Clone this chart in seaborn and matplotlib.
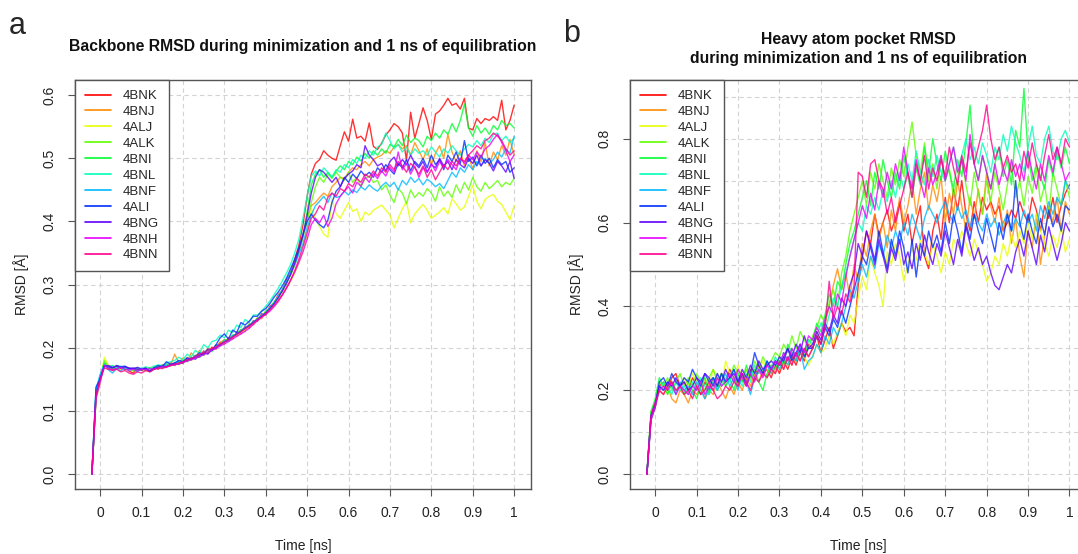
import numpy as np
import pandas as pd
import matplotlib
matplotlib.use("Agg")
import matplotlib.pyplot as plt
import seaborn as sns
from matplotlib.lines import Line2D

structures = ["4BNK", "4BNJ", "4ALJ", "4ALK", "4BNI", "4BNL", "4BNF", "4ALI", "4BNG", "4BNH", "4BNN"]
# R rainbow(11)
colors = ["#FF0000", "#FF8B00", "#E8FF00", "#5DFF00", "#00FF2E", "#00FFB9",
          "#00B9FF", "#002EFF", "#5D00FF", "#E800FF", "#FF008B"]

time_ns = [-0.02, -0.01, 0.00, 0.01, 0.02, 0.03, 0.04, 0.05, 0.06, 0.07,
           0.08, 0.09, 0.10, 0.11, 0.12, 0.13, 0.14, 0.15, 0.16, 0.17,
           0.18, 0.19, 0.20, 0.21, 0.22, 0.23, 0.24, 0.25, 0.26, 0.27,
           0.28, 0.29, 0.30, 0.31, 0.32, 0.33, 0.34, 0.35, 0.36, 0.37,
           0.38, 0.39, 0.40, 0.41, 0.42, 0.43, 0.44, 0.45, 0.46, 0.47,
           0.48, 0.49, 0.50, 0.51, 0.52, 0.53, 0.54, 0.55, 0.56, 0.57,
           0.58, 0.59, 0.60, 0.61, 0.62, 0.63, 0.64, 0.65, 0.66, 0.67,
           0.68, 0.69, 0.70, 0.71, 0.72, 0.73, 0.74, 0.75, 0.76, 0.77,
           0.78, 0.79, 0.80, 0.81, 0.82, 0.83, 0.84, 0.85, 0.86, 0.87,
           0.88, 0.89, 0.90, 0.91, 0.92, 0.93, 0.94, 0.95, 0.96, 0.97,
           0.98, 0.99, 1.00]

# ---- panel a: backbone RMSD ----
bb_4BNK = [0.000, 0.128, 0.152, 0.176, 0.170, 0.165, 0.171, 0.166, 0.169, 0.163,
           0.160, 0.167, 0.164, 0.168, 0.163, 0.170, 0.166, 0.173, 0.170, 0.176,
           0.172, 0.178, 0.175, 0.184, 0.180, 0.188, 0.185, 0.195, 0.191, 0.201,
           0.198, 0.209, 0.206, 0.216, 0.214, 0.225, 0.222, 0.234, 0.231, 0.243,
           0.242, 0.254, 0.252, 0.266, 0.270, 0.284, 0.290, 0.308, 0.318, 0.340,
           0.362, 0.395, 0.440, 0.475, 0.492, 0.498, 0.512, 0.505, 0.500, 0.497,
           0.520, 0.542, 0.527, 0.562, 0.532, 0.535, 0.527, 0.556, 0.519, 0.514,
           0.524, 0.537, 0.545, 0.555, 0.550, 0.540, 0.497, 0.573, 0.532, 0.555,
           0.580, 0.560, 0.530, 0.570, 0.575, 0.584, 0.595, 0.584, 0.587, 0.578,
           0.595, 0.548, 0.545, 0.563, 0.555, 0.563, 0.560, 0.566, 0.560, 0.592,
           0.545, 0.560, 0.584]
bb_4BNJ = [0.000, 0.122, 0.148, 0.175, 0.171, 0.167, 0.172, 0.169, 0.165, 0.168,
           0.164, 0.168, 0.165, 0.167, 0.169, 0.166, 0.171, 0.170, 0.175, 0.172,
           0.190, 0.176, 0.184, 0.178, 0.192, 0.184, 0.196, 0.188, 0.200, 0.198,
           0.202, 0.208, 0.213, 0.210, 0.220, 0.218, 0.229, 0.226, 0.238, 0.236,
           0.248, 0.246, 0.258, 0.262, 0.270, 0.283, 0.290, 0.305, 0.316, 0.336,
           0.355, 0.378, 0.405, 0.425, 0.430, 0.438, 0.445, 0.440, 0.455, 0.462,
           0.470, 0.468, 0.478, 0.485, 0.482, 0.490, 0.495, 0.488, 0.498, 0.502,
           0.505, 0.512, 0.508, 0.518, 0.522, 0.515, 0.520, 0.505, 0.525, 0.512,
           0.498, 0.515, 0.490, 0.508, 0.520, 0.500, 0.538, 0.510, 0.495, 0.512,
           0.488, 0.505, 0.482, 0.512, 0.495, 0.525, 0.488, 0.510, 0.498, 0.520,
           0.505, 0.530, 0.505]
bb_4ALJ = [0.000, 0.118, 0.145, 0.185, 0.172, 0.168, 0.170, 0.165, 0.169, 0.166,
           0.168, 0.164, 0.167, 0.163, 0.166, 0.170, 0.168, 0.172, 0.170, 0.174,
           0.176, 0.173, 0.179, 0.182, 0.180, 0.185, 0.188, 0.190, 0.193, 0.197,
           0.200, 0.204, 0.208, 0.212, 0.216, 0.220, 0.224, 0.229, 0.233, 0.238,
           0.244, 0.248, 0.255, 0.262, 0.268, 0.276, 0.285, 0.295, 0.305, 0.318,
           0.335, 0.352, 0.378, 0.420, 0.405, 0.392, 0.380, 0.375, 0.436, 0.412,
           0.405, 0.418, 0.430, 0.416, 0.420, 0.400, 0.415, 0.410, 0.418, 0.422,
           0.426, 0.418, 0.410, 0.390, 0.405, 0.420, 0.432, 0.398, 0.412, 0.420,
           0.427, 0.418, 0.405, 0.410, 0.415, 0.422, 0.412, 0.436, 0.428, 0.418,
           0.423, 0.440, 0.457, 0.432, 0.420, 0.435, 0.440, 0.443, 0.432, 0.427,
           0.415, 0.403, 0.425]
bb_4ALK = [0.000, 0.120, 0.150, 0.180, 0.170, 0.172, 0.166, 0.170, 0.167, 0.168,
           0.163, 0.167, 0.165, 0.168, 0.164, 0.167, 0.170, 0.168, 0.173, 0.171,
           0.175, 0.178, 0.176, 0.181, 0.185, 0.183, 0.190, 0.188, 0.194, 0.198,
           0.201, 0.206, 0.210, 0.214, 0.218, 0.223, 0.227, 0.231, 0.236, 0.240,
           0.245, 0.250, 0.256, 0.263, 0.270, 0.280, 0.290, 0.302, 0.315, 0.330,
           0.352, 0.375, 0.400, 0.430, 0.455, 0.470, 0.462, 0.475, 0.468, 0.478,
           0.470, 0.465, 0.478, 0.462, 0.470, 0.455, 0.468, 0.472, 0.462, 0.465,
           0.450, 0.458, 0.442, 0.430, 0.452, 0.445, 0.428, 0.450, 0.438, 0.446,
           0.440, 0.452, 0.445, 0.432, 0.455, 0.440, 0.448, 0.438, 0.458, 0.445,
           0.462, 0.450, 0.470, 0.455, 0.448, 0.462, 0.452, 0.458, 0.465, 0.455,
           0.462, 0.458, 0.468]
bb_4BNI = [0.000, 0.130, 0.155, 0.176, 0.166, 0.169, 0.167, 0.170, 0.166, 0.167,
           0.166, 0.163, 0.167, 0.165, 0.168, 0.166, 0.170, 0.169, 0.171, 0.174,
           0.173, 0.177, 0.180, 0.178, 0.182, 0.187, 0.185, 0.191, 0.196, 0.194,
           0.204, 0.205, 0.212, 0.213, 0.220, 0.221, 0.229, 0.230, 0.237, 0.239,
           0.247, 0.249, 0.258, 0.262, 0.273, 0.279, 0.293, 0.302, 0.320, 0.332,
           0.352, 0.378, 0.415, 0.458, 0.475, 0.482, 0.470, 0.478, 0.470, 0.480,
           0.488, 0.482, 0.495, 0.490, 0.502, 0.496, 0.508, 0.500, 0.512, 0.505,
           0.515, 0.508, 0.522, 0.518, 0.530, 0.520, 0.537, 0.525, 0.532, 0.528,
           0.518, 0.535, 0.528, 0.540, 0.532, 0.545, 0.538, 0.555, 0.542, 0.560,
           0.586, 0.548, 0.535, 0.552, 0.540, 0.548, 0.538, 0.552, 0.545, 0.560,
           0.552, 0.555, 0.548]
bb_4BNL = [0.000, 0.132, 0.156, 0.174, 0.169, 0.172, 0.168, 0.171, 0.169, 0.167,
           0.166, 0.169, 0.167, 0.170, 0.168, 0.171, 0.173, 0.172, 0.176, 0.178,
           0.180, 0.185, 0.181, 0.190, 0.186, 0.196, 0.191, 0.205, 0.200, 0.210,
           0.212, 0.220, 0.216, 0.228, 0.224, 0.236, 0.232, 0.245, 0.240, 0.252,
           0.252, 0.258, 0.266, 0.274, 0.284, 0.294, 0.306, 0.318, 0.332, 0.350,
           0.372, 0.405, 0.440, 0.472, 0.480, 0.472, 0.485, 0.478, 0.470, 0.482,
           0.478, 0.490, 0.485, 0.498, 0.492, 0.505, 0.500, 0.512, 0.505, 0.518,
           0.522, 0.540, 0.528, 0.515, 0.522, 0.510, 0.518, 0.505, 0.515, 0.508,
           0.512, 0.505, 0.518, 0.510, 0.502, 0.515, 0.508, 0.520, 0.512, 0.505,
           0.515, 0.522, 0.518, 0.528, 0.520, 0.532, 0.525, 0.538, 0.540, 0.528,
           0.535, 0.525, 0.532]
bb_4BNF = [0.000, 0.135, 0.158, 0.173, 0.165, 0.160, 0.168, 0.163, 0.170, 0.164,
           0.167, 0.162, 0.168, 0.166, 0.164, 0.169, 0.167, 0.171, 0.173, 0.172,
           0.176, 0.179, 0.177, 0.183, 0.181, 0.188, 0.186, 0.193, 0.197, 0.196,
           0.205, 0.203, 0.212, 0.210, 0.219, 0.222, 0.226, 0.233, 0.235, 0.242,
           0.245, 0.252, 0.255, 0.264, 0.270, 0.282, 0.291, 0.305, 0.318, 0.332,
           0.348, 0.365, 0.390, 0.410, 0.425, 0.432, 0.440, 0.430, 0.445, 0.438,
           0.440, 0.448, 0.442, 0.450, 0.446, 0.455, 0.450, 0.458, 0.452, 0.448,
           0.456, 0.462, 0.455, 0.462, 0.450, 0.465, 0.458, 0.470, 0.462, 0.468,
           0.458, 0.467, 0.462, 0.455, 0.460, 0.452, 0.465, 0.478, 0.470, 0.485,
           0.478, 0.490, 0.482, 0.495, 0.488, 0.500, 0.492, 0.498, 0.510, 0.502,
           0.515, 0.508, 0.535]
bb_4ALI = [0.000, 0.138, 0.150, 0.172, 0.170, 0.168, 0.172, 0.170, 0.171, 0.167,
           0.168, 0.166, 0.165, 0.167, 0.163, 0.168, 0.172, 0.170, 0.178, 0.174,
           0.176, 0.180, 0.178, 0.184, 0.182, 0.186, 0.192, 0.189, 0.198, 0.196,
           0.205, 0.216, 0.222, 0.214, 0.228, 0.224, 0.240, 0.236, 0.242, 0.250,
           0.250, 0.258, 0.262, 0.270, 0.280, 0.288, 0.298, 0.310, 0.325, 0.340,
           0.358, 0.380, 0.400, 0.412, 0.402, 0.395, 0.390, 0.402, 0.430, 0.448,
           0.455, 0.470, 0.462, 0.475, 0.468, 0.480, 0.472, 0.478, 0.470, 0.485,
           0.478, 0.490, 0.482, 0.475, 0.492, 0.485, 0.498, 0.480, 0.495, 0.488,
           0.500, 0.485, 0.505, 0.490, 0.498, 0.482, 0.505, 0.495, 0.510, 0.492,
           0.528, 0.495, 0.502, 0.488, 0.505, 0.492, 0.500, 0.485, 0.498, 0.490,
           0.495, 0.478, 0.485]
bb_4BNG = [0.000, 0.124, 0.152, 0.170, 0.172, 0.169, 0.171, 0.168, 0.170, 0.168,
           0.167, 0.169, 0.166, 0.168, 0.162, 0.166, 0.169, 0.171, 0.170, 0.173,
           0.175, 0.174, 0.177, 0.180, 0.184, 0.182, 0.188, 0.192, 0.190, 0.197,
           0.200, 0.205, 0.209, 0.213, 0.217, 0.222, 0.226, 0.231, 0.235, 0.240,
           0.245, 0.250, 0.255, 0.262, 0.270, 0.279, 0.290, 0.302, 0.316, 0.334,
           0.355, 0.378, 0.410, 0.445, 0.470, 0.482, 0.478, 0.470, 0.462, 0.470,
           0.455, 0.468, 0.475, 0.480, 0.490, 0.485, 0.520, 0.505, 0.498, 0.488,
           0.492, 0.480, 0.495, 0.502, 0.488, 0.498, 0.490, 0.505, 0.492, 0.485,
           0.495, 0.478, 0.490, 0.485, 0.500, 0.488, 0.495, 0.482, 0.498, 0.490,
           0.485, 0.500, 0.492, 0.505, 0.488, 0.498, 0.492, 0.480, 0.495, 0.488,
           0.478, 0.495, 0.468]
bb_4BNH = [0.000, 0.120, 0.145, 0.172, 0.168, 0.165, 0.167, 0.169, 0.166, 0.165,
           0.166, 0.164, 0.166, 0.165, 0.167, 0.166, 0.168, 0.170, 0.169, 0.172,
           0.173, 0.175, 0.177, 0.179, 0.181, 0.184, 0.186, 0.189, 0.193, 0.196,
           0.199, 0.203, 0.206, 0.210, 0.214, 0.218, 0.222, 0.226, 0.231, 0.237,
           0.243, 0.248, 0.253, 0.258, 0.265, 0.273, 0.283, 0.294, 0.307, 0.320,
           0.335, 0.352, 0.372, 0.395, 0.405, 0.398, 0.410, 0.392, 0.405, 0.428,
           0.440, 0.448, 0.455, 0.445, 0.462, 0.456, 0.470, 0.462, 0.476, 0.468,
           0.480, 0.472, 0.486, 0.478, 0.510, 0.482, 0.492, 0.475, 0.488, 0.470,
           0.485, 0.478, 0.492, 0.480, 0.495, 0.486, 0.498, 0.490, 0.482, 0.500,
           0.492, 0.505, 0.498, 0.510, 0.502, 0.515, 0.520, 0.530, 0.538, 0.525,
           0.512, 0.495, 0.505]
bb_4BNN = [0.000, 0.126, 0.150, 0.168, 0.166, 0.164, 0.166, 0.162, 0.164, 0.160,
           0.158, 0.162, 0.160, 0.164, 0.162, 0.166, 0.168, 0.167, 0.170, 0.172,
           0.174, 0.176, 0.178, 0.181, 0.183, 0.186, 0.190, 0.192, 0.196, 0.199,
           0.202, 0.206, 0.209, 0.213, 0.217, 0.221, 0.225, 0.230, 0.234, 0.239,
           0.244, 0.249, 0.254, 0.260, 0.267, 0.275, 0.284, 0.295, 0.307, 0.322,
           0.340, 0.360, 0.382, 0.405, 0.412, 0.425, 0.418, 0.438, 0.445, 0.440,
           0.452, 0.448, 0.460, 0.455, 0.468, 0.462, 0.475, 0.470, 0.480, 0.472,
           0.485, 0.478, 0.490, 0.482, 0.495, 0.488, 0.478, 0.492, 0.485, 0.475,
           0.488, 0.470, 0.482, 0.466, 0.478, 0.490, 0.482, 0.495, 0.488, 0.500,
           0.495, 0.505, 0.512, 0.520, 0.515, 0.528, 0.532, 0.540, 0.535, 0.528,
           0.515, 0.505, 0.512]

# ---- panel b: heavy atom pocket RMSD ----
pk_4BNK = [0.00, 0.13, 0.16, 0.21, 0.22, 0.20, 0.23, 0.24, 0.21, 0.22,
           0.20, 0.23, 0.21, 0.19, 0.22, 0.20, 0.23, 0.21, 0.24, 0.22,
           0.25, 0.23, 0.21, 0.24, 0.22, 0.25, 0.23, 0.26, 0.24, 0.25,
           0.23, 0.26, 0.24, 0.27, 0.25, 0.28, 0.26, 0.29, 0.27, 0.31,
           0.30, 0.33, 0.29, 0.32, 0.35, 0.30, 0.33, 0.36, 0.34, 0.35,
           0.33, 0.45, 0.52, 0.58, 0.55, 0.62, 0.57, 0.60, 0.63, 0.58,
           0.61, 0.65, 0.58, 0.62, 0.55, 0.60, 0.64, 0.52, 0.49, 0.58,
           0.62, 0.56, 0.66, 0.60, 0.68, 0.63, 0.70, 0.62, 0.58, 0.65,
           0.60, 0.66, 0.63, 0.65, 0.62, 0.64, 0.58, 0.60, 0.63, 0.61,
           0.65, 0.62, 0.60, 0.66, 0.63, 0.58, 0.64, 0.61, 0.66, 0.60,
           0.64, 0.67, 0.69]
pk_4BNJ = [0.00, 0.14, 0.17, 0.20, 0.19, 0.21, 0.18, 0.17, 0.20, 0.19,
           0.17, 0.20, 0.19, 0.21, 0.18, 0.20, 0.19, 0.22, 0.20, 0.18,
           0.21, 0.19, 0.22, 0.20, 0.23, 0.21, 0.24, 0.22, 0.25, 0.23,
           0.26, 0.24, 0.27, 0.25, 0.28, 0.26, 0.29, 0.27, 0.30, 0.28,
           0.30, 0.34, 0.31, 0.36, 0.40, 0.45, 0.49, 0.44, 0.48, 0.42,
           0.50, 0.46, 0.55, 0.52, 0.58, 0.62, 0.56, 0.60, 0.54, 0.63,
           0.58, 0.66, 0.60, 0.64, 0.70, 0.62, 0.68, 0.72, 0.63, 0.69,
           0.65, 0.71, 0.60, 0.67, 0.62, 0.70, 0.64, 0.58, 0.66, 0.61,
           0.68, 0.62, 0.72, 0.64, 0.60, 0.66, 0.58, 0.63, 0.55, 0.61,
           0.52, 0.47, 0.58, 0.54, 0.62, 0.50, 0.57, 0.64, 0.60, 0.66,
           0.58, 0.65, 0.62]
pk_4ALJ = [0.00, 0.14, 0.16, 0.20, 0.21, 0.19, 0.22, 0.20, 0.21, 0.23,
           0.21, 0.24, 0.22, 0.20, 0.23, 0.21, 0.25, 0.23, 0.21, 0.27,
           0.24, 0.22, 0.26, 0.23, 0.25, 0.22, 0.26, 0.24, 0.27, 0.25,
           0.24, 0.27, 0.25, 0.28, 0.26, 0.29, 0.27, 0.30, 0.28, 0.26,
           0.28, 0.31, 0.29, 0.30, 0.33, 0.31, 0.34, 0.36, 0.33, 0.38,
           0.36, 0.42, 0.47, 0.44, 0.52, 0.48, 0.45, 0.40, 0.53, 0.50,
           0.55, 0.52, 0.46, 0.50, 0.54, 0.51, 0.56, 0.53, 0.50, 0.55,
           0.52, 0.48, 0.53, 0.50, 0.56, 0.54, 0.58, 0.55, 0.52, 0.56,
           0.53, 0.50, 0.46, 0.48, 0.52, 0.50, 0.55, 0.52, 0.57, 0.54,
           0.58, 0.55, 0.60, 0.56, 0.62, 0.58, 0.55, 0.52, 0.57, 0.54,
           0.59, 0.53, 0.56]
pk_4ALK = [0.00, 0.15, 0.17, 0.22, 0.21, 0.23, 0.20, 0.22, 0.24, 0.21,
           0.23, 0.21, 0.24, 0.22, 0.20, 0.23, 0.25, 0.22, 0.24, 0.21,
           0.23, 0.26, 0.24, 0.22, 0.25, 0.23, 0.27, 0.25, 0.28, 0.26,
           0.27, 0.29, 0.28, 0.31, 0.29, 0.33, 0.30, 0.34, 0.32, 0.30,
           0.33, 0.35, 0.38, 0.36, 0.41, 0.44, 0.40, 0.48, 0.52, 0.58,
           0.62, 0.66, 0.70, 0.64, 0.72, 0.68, 0.74, 0.70, 0.66, 0.73,
           0.69, 0.75, 0.71, 0.78, 0.84, 0.76, 0.72, 0.79, 0.70, 0.74,
           0.68, 0.76, 0.70, 0.73, 0.66, 0.71, 0.75, 0.69, 0.64, 0.72,
           0.67, 0.62, 0.70, 0.65, 0.72, 0.68, 0.63, 0.69, 0.74, 0.66,
           0.70, 0.64, 0.71, 0.67, 0.73, 0.65, 0.69, 0.62, 0.72, 0.68,
           0.64, 0.70, 0.66]
pk_4BNI = [0.00, 0.15, 0.18, 0.23, 0.21, 0.19, 0.22, 0.20, 0.21, 0.19,
           0.22, 0.20, 0.18, 0.21, 0.23, 0.19, 0.22, 0.20, 0.24, 0.21,
           0.23, 0.20, 0.24, 0.22, 0.26, 0.23, 0.25, 0.22, 0.20, 0.24,
           0.26, 0.25, 0.28, 0.26, 0.31, 0.29, 0.27, 0.30, 0.28, 0.32,
           0.32, 0.36, 0.34, 0.38, 0.43, 0.40, 0.46, 0.44, 0.50, 0.55,
           0.58, 0.62, 0.66, 0.70, 0.64, 0.72, 0.68, 0.75, 0.70, 0.66,
           0.72, 0.68, 0.76, 0.71, 0.66, 0.73, 0.69, 0.78, 0.72, 0.80,
           0.74, 0.70, 0.77, 0.72, 0.68, 0.75, 0.71, 0.79, 0.88, 0.74,
           0.70, 0.76, 0.72, 0.68, 0.74, 0.78, 0.71, 0.75, 0.69, 0.82,
           0.78, 0.92, 0.76, 0.70, 0.74, 0.71, 0.68, 0.75, 0.71, 0.77,
           0.73, 0.78, 0.74]
pk_4BNL = [0.00, 0.14, 0.17, 0.20, 0.22, 0.21, 0.19, 0.22, 0.20, 0.21,
           0.19, 0.22, 0.20, 0.23, 0.21, 0.19, 0.22, 0.24, 0.21, 0.23,
           0.22, 0.25, 0.23, 0.21, 0.24, 0.22, 0.26, 0.24, 0.25, 0.27,
           0.25, 0.28, 0.26, 0.29, 0.27, 0.30, 0.28, 0.31, 0.29, 0.32,
           0.31, 0.33, 0.36, 0.34, 0.38, 0.42, 0.40, 0.45, 0.48, 0.52,
           0.56, 0.60, 0.58, 0.64, 0.62, 0.66, 0.63, 0.68, 0.65, 0.70,
           0.66, 0.72, 0.68, 0.74, 0.70, 0.77, 0.72, 0.69, 0.75, 0.71,
           0.76, 0.72, 0.70, 0.74, 0.78, 0.73, 0.76, 0.80, 0.75, 0.78,
           0.74, 0.79, 0.76, 0.72, 0.78, 0.75, 0.81, 0.77, 0.83, 0.79,
           0.76, 0.72, 0.78, 0.83, 0.76, 0.74, 0.80, 0.83, 0.77, 0.75,
           0.80, 0.82, 0.79]
pk_4BNF = [0.00, 0.13, 0.16, 0.21, 0.20, 0.22, 0.21, 0.19, 0.22, 0.20,
           0.21, 0.19, 0.22, 0.20, 0.18, 0.21, 0.23, 0.20, 0.22, 0.24,
           0.21, 0.23, 0.20, 0.24, 0.22, 0.19, 0.23, 0.25, 0.24, 0.26,
           0.24, 0.27, 0.25, 0.28, 0.26, 0.29, 0.27, 0.30, 0.25, 0.27,
           0.28, 0.31, 0.29, 0.33, 0.31, 0.35, 0.33, 0.36, 0.40, 0.44,
           0.42, 0.46, 0.50, 0.47, 0.52, 0.49, 0.55, 0.52, 0.57, 0.54,
           0.58, 0.55, 0.60, 0.57, 0.62, 0.59, 0.56, 0.61, 0.64, 0.62,
           0.60, 0.63, 0.65, 0.62, 0.60, 0.64, 0.61, 0.63, 0.59, 0.62,
           0.60, 0.58, 0.62, 0.59, 0.61, 0.57, 0.60, 0.62, 0.58, 0.61,
           0.59, 0.63, 0.60, 0.62, 0.58, 0.64, 0.61, 0.65, 0.62, 0.66,
           0.64, 0.70, 0.68]
pk_4ALI = [0.00, 0.14, 0.16, 0.22, 0.23, 0.21, 0.24, 0.22, 0.21, 0.23,
           0.22, 0.25, 0.23, 0.21, 0.24, 0.22, 0.23, 0.21, 0.24, 0.22,
           0.23, 0.25, 0.22, 0.24, 0.21, 0.24, 0.29, 0.26, 0.24, 0.27,
           0.25, 0.27, 0.26, 0.28, 0.30, 0.27, 0.29, 0.31, 0.28, 0.30,
           0.30, 0.33, 0.31, 0.35, 0.33, 0.37, 0.35, 0.39, 0.36, 0.40,
           0.44, 0.48, 0.52, 0.50, 0.55, 0.51, 0.58, 0.53, 0.49, 0.56,
           0.52, 0.58, 0.54, 0.48, 0.56, 0.47, 0.55, 0.52, 0.58, 0.54,
           0.57, 0.53, 0.60, 0.55, 0.62, 0.58, 0.53, 0.60, 0.56, 0.62,
           0.58, 0.55, 0.61, 0.57, 0.53, 0.60, 0.56, 0.62, 0.58, 0.70,
           0.60, 0.56, 0.62, 0.58, 0.55, 0.61, 0.57, 0.63, 0.59, 0.62,
           0.58, 0.64, 0.63]
pk_4BNG = [0.00, 0.14, 0.17, 0.21, 0.20, 0.22, 0.21, 0.23, 0.21, 0.22,
           0.20, 0.21, 0.23, 0.22, 0.24, 0.23, 0.21, 0.24, 0.22, 0.25,
           0.23, 0.24, 0.22, 0.25, 0.23, 0.26, 0.24, 0.27, 0.25, 0.26,
           0.27, 0.26, 0.28, 0.27, 0.30, 0.28, 0.31, 0.29, 0.33, 0.30,
           0.31, 0.34, 0.32, 0.36, 0.34, 0.38, 0.36, 0.42, 0.40, 0.45,
           0.48, 0.55, 0.52, 0.58, 0.54, 0.50, 0.56, 0.52, 0.48, 0.54,
           0.51, 0.56, 0.50, 0.53, 0.49, 0.55, 0.51, 0.57, 0.53, 0.50,
           0.55, 0.52, 0.58, 0.54, 0.50, 0.56, 0.52, 0.59, 0.55, 0.51,
           0.54, 0.50, 0.52, 0.48, 0.45, 0.44, 0.47, 0.50, 0.48, 0.53,
           0.56, 0.52, 0.58, 0.54, 0.50, 0.57, 0.53, 0.59, 0.55, 0.51,
           0.55, 0.60, 0.58]
pk_4BNH = [0.00, 0.13, 0.16, 0.20, 0.21, 0.20, 0.22, 0.19, 0.21, 0.20,
           0.19, 0.21, 0.20, 0.22, 0.19, 0.21, 0.20, 0.23, 0.21, 0.22,
           0.24, 0.22, 0.25, 0.23, 0.21, 0.24, 0.22, 0.25, 0.23, 0.26,
           0.25, 0.27, 0.26, 0.29, 0.27, 0.30, 0.28, 0.31, 0.29, 0.33,
           0.32, 0.35, 0.33, 0.37, 0.40, 0.38, 0.43, 0.41, 0.47, 0.52,
           0.56, 0.60, 0.64, 0.61, 0.67, 0.63, 0.70, 0.66, 0.72, 0.68,
           0.74, 0.70, 0.78, 0.72, 0.68, 0.75, 0.70, 0.66, 0.73, 0.69,
           0.72, 0.76, 0.70, 0.74, 0.78, 0.72, 0.75, 0.70, 0.81, 0.74,
           0.70, 0.76, 0.72, 0.68, 0.74, 0.69, 0.73, 0.70, 0.75, 0.71,
           0.74, 0.70, 0.77, 0.72, 0.68, 0.74, 0.70, 0.76, 0.72, 0.78,
           0.74, 0.70, 0.72]
pk_4BNN = [0.00, 0.14, 0.17, 0.20, 0.19, 0.21, 0.22, 0.20, 0.21, 0.19,
           0.20, 0.18, 0.21, 0.19, 0.20, 0.22, 0.20, 0.18, 0.19, 0.21,
           0.20, 0.22, 0.21, 0.24, 0.22, 0.20, 0.23, 0.22, 0.24, 0.23,
           0.25, 0.24, 0.27, 0.25, 0.28, 0.26, 0.29, 0.27, 0.30, 0.28,
           0.30, 0.33, 0.31, 0.35, 0.46, 0.37, 0.40, 0.38, 0.43, 0.41,
           0.45, 0.72, 0.71, 0.66, 0.74, 0.75, 0.70, 0.68, 0.62, 0.66,
           0.60, 0.64, 0.68, 0.72, 0.66, 0.74, 0.70, 0.76, 0.68, 0.73,
           0.70, 0.75, 0.71, 0.78, 0.73, 0.69, 0.76, 0.72, 0.79, 0.74,
           0.78, 0.82, 0.88, 0.80, 0.75, 0.78, 0.73, 0.76, 0.72, 0.74,
           0.70, 0.77, 0.73, 0.79, 0.74, 0.70, 0.76, 0.81, 0.75, 0.78,
           0.74, 0.80, 0.78]

backbone = [bb_4BNK, bb_4BNJ, bb_4ALJ, bb_4ALK, bb_4BNI, bb_4BNL,
            bb_4BNF, bb_4ALI, bb_4BNG, bb_4BNH, bb_4BNN]
pocket = [pk_4BNK, pk_4BNJ, pk_4ALJ, pk_4ALK, pk_4BNI, pk_4BNL,
          pk_4BNF, pk_4ALI, pk_4BNG, pk_4BNH, pk_4BNN]


def long_frame(series):
    parts = []
    for name, vals in zip(structures, series):
        parts.append(pd.DataFrame({"time": time_ns, "rmsd": vals, "structure": name}))
    return pd.concat(parts, ignore_index=True)


sns.set_style("white")
plt.rcParams["font.family"] = ["Liberation Sans", "DejaVu Sans"]

W, H = 1078, 554
fig = plt.figure(figsize=(W / 100, H / 100), dpi=100)
ax_a = fig.add_axes([75 / W, 1 - 489.3 / H, 456 / W, 409.3 / H])
ax_b = fig.add_axes([630 / W, 1 - 489.3 / H, 456.4 / W, 409.3 / H])

xticks = [0, 0.1, 0.2, 0.3, 0.4, 0.5, 0.6, 0.7, 0.8, 0.9, 1.0]
xlabels = ["0", "0.1", "0.2", "0.3", "0.4", "0.5", "0.6", "0.7", "0.8", "0.9", "1"]

panels = [
    (ax_a, backbone, (-0.024, 0.624), [0, 0.1, 0.2, 0.3, 0.4, 0.5, 0.6], [],
     "Backbone RMSD during minimization and 1 ns of equilibration", 1.081),
    (ax_b, pocket, (-0.036, 0.94), [0, 0.2, 0.4, 0.6, 0.8], [0.1, 0.3, 0.5, 0.7, 0.9],
     "Heavy atom pocket RMSD\nduring minimization and 1 ns of equilibration", 1.076),
]

for ax, series, ylim, yt, ymin, title, ty in panels:
    df = long_frame(series)
    sns.lineplot(data=df, x="time", y="rmsd", hue="structure", hue_order=structures,
                 palette=colors, estimator=None, sort=False, lw=1.0, alpha=0.8,
                 legend=False, ax=ax, zorder=3)
    ax.set_xlim(-0.0608, 1.0408)
    ax.set_ylim(*ylim)
    ax.set_xticks(xticks)
    ax.set_xticklabels(xlabels)
    ax.set_yticks(yt)
    ax.set_yticklabels([f"{v:.1f}" for v in yt], rotation=90, va="center")
    ax.set_yticks(ymin, minor=True)
    ax.grid(True, which="both", color="#d3d3d3", linestyle=(0, (4, 3)), lw=0.8, zorder=0)
    ax.set_axisbelow(True)
    ax.tick_params(which="major", direction="out", length=5, width=0.8, color="#555555",
                   labelsize=10, labelcolor="#222222", left=True, bottom=True)
    ax.tick_params(axis="x", pad=7)
    ax.tick_params(axis="y", pad=8)
    ax.tick_params(which="minor", length=0)
    for s in ax.spines.values():
        s.set_color("#555555")
        s.set_linewidth(1.0)
    ax.set_xlabel("Time [ns]", fontsize=10, labelpad=14, color="#222222")
    ax.set_ylabel("RMSD [Å]", fontsize=10, labelpad=10, color="#222222")
    ax.text(0.5, ty, title, transform=ax.transAxes, ha="center", va="center",
            fontsize=11.3, fontweight="bold", linespacing=1.3, color="#111111")
    handles = [Line2D([0], [0], color=c, lw=1.2) for c in colors]
    leg = ax.legend(handles, structures, loc="upper left", borderaxespad=0,
                    fancybox=False, framealpha=1, edgecolor="#555555", fontsize=9.5,
                    handlelength=2.0, handletextpad=0.9, labelspacing=0.28,
                    borderpad=0.75)
    leg.get_frame().set_linewidth(1.0)
    leg.set_zorder(5)

fig.text(9 / W, 1 - 33.5 / H, "a", fontsize=22, va="baseline", ha="left")
fig.text(563 / W, 1 - 41.5 / H, "b", fontsize=22, va="baseline", ha="left")

fig.savefig("out.png", dpi=100, facecolor="white")
